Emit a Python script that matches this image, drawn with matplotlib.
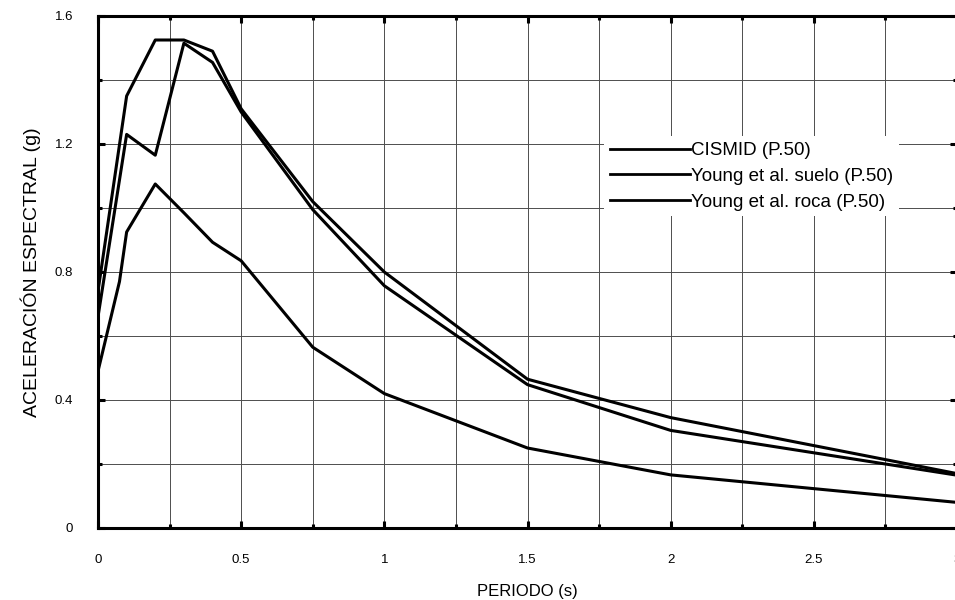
import numpy as np
import matplotlib.pyplot as plt
from matplotlib.ticker import MultipleLocator

plt.rcParams['font.family'] = ['Liberation Sans', 'DejaVu Sans']

# datos
periodo = [0, 0.1, 0.2, 0.3, 0.4, 0.5, 0.75, 1.0, 1.5, 2.0, 3.0]
cismid = [0.74, 1.35, 1.525, 1.525, 1.49, 1.31, 1.02, 0.80, 0.465, 0.345, 0.17]
young_suelo = [0.66, 1.23, 1.165, 1.515, 1.455, 1.30, 0.995, 0.757, 0.448, 0.305, 0.165]

periodo_roca = [0, 0.075, 0.1, 0.2, 0.3, 0.4, 0.5, 0.75, 1.0, 1.5, 2.0, 3.0]
young_roca = [0.49, 0.77, 0.925, 1.075, 0.985, 0.893, 0.835, 0.565, 0.42, 0.25, 0.166, 0.08]

etiquetas = ['CISMID (P.50)', 'Young et al. suelo (P.50)', 'Young et al. roca (P.50)']
xticks = [0, 0.5, 1, 1.5, 2, 2.5, 3]
xlabels = ['0', '0.5', '1', '1.5', '2', '2.5', '3']
yticks = [0, 0.4, 0.8, 1.2, 1.6]
ylabels = ['0', '0.4', '0.8', '1.2', '1.6']

fig = plt.figure(figsize=(9.55, 6.0), dpi=100)
ax = fig.add_axes([98 / 955, 1 - 528 / 600, 859 / 955, 512 / 600])

ax.plot(periodo, cismid, color='black', lw=2.2, label=etiquetas[0])
ax.plot(periodo, young_suelo, color='black', lw=2.2, label=etiquetas[1])
ax.plot(periodo_roca, young_roca, color='black', lw=2.2, label=etiquetas[2])

ax.set_xlim(0, 3)
ax.set_ylim(0, 1.6)

# ticks
ax.set_xticks(xticks, xlabels)
ax.set_yticks(yticks, ylabels)
ax.xaxis.set_minor_locator(MultipleLocator(0.25))
ax.yaxis.set_minor_locator(MultipleLocator(0.2))
ax.tick_params(which='both', direction='in', top=True, right=True, width=2.2, color='black')
ax.tick_params(which='major', length=5)
ax.tick_params(which='minor', length=3)
ax.tick_params(axis='x', which='major', pad=19, labelsize=9.5)
ax.tick_params(axis='y', which='major', pad=18, labelsize=9.5)

# grilla
ax.grid(True, which='both', color='0.3', lw=0.7)
ax.set_axisbelow(True)

for s in ax.spines.values():
    s.set_linewidth(2.2)

ax.set_xlabel('PERIODO (s)', fontsize=12, labelpad=13)
ax.set_ylabel('ACELERACIÓN ESPECTRAL (g)', fontsize=14, labelpad=10)

leg = ax.legend(loc='upper left', bbox_to_anchor=(0.589, 0.765), frameon=True,
                fontsize=13.5, handlelength=4.3, handletextpad=0.05,
                labelspacing=0.46, borderpad=0.3, borderaxespad=0)
leg.get_frame().set_edgecolor('none')
leg.get_frame().set_facecolor('white')
leg.get_frame().set_alpha(1)
for l in leg.get_lines():
    l.set_linewidth(2.0)

fig.savefig('out.png', dpi=100)
